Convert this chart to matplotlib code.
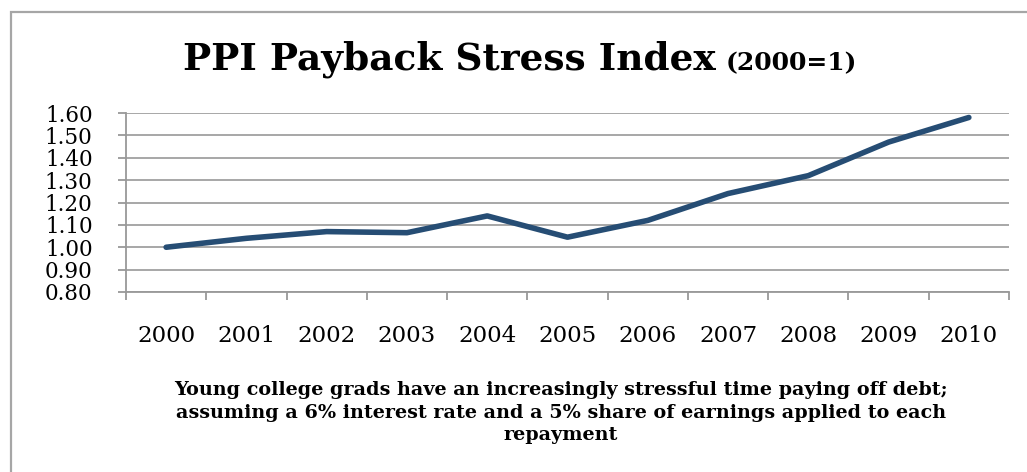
import numpy as np
import matplotlib
matplotlib.use("Agg")
import matplotlib.pyplot as plt
from matplotlib.patches import Rectangle

years = ['2000', '2001', '2002', '2003', '2004', '2005', '2006', '2007', '2008', '2009', '2010']
stress = [1.00, 1.04, 1.07, 1.065, 1.14, 1.045, 1.12, 1.24, 1.32, 1.47, 1.58]
yticks = [0.80, 0.90, 1.00, 1.10, 1.20, 1.30, 1.40, 1.50, 1.60]

W, H = 1027, 472
serif = 'DejaVu Serif'
plt.rcParams['font.family'] = serif

fig = plt.figure(figsize=(W / 100, H / 100), dpi=100)

# outer chart border (gray box running off the right/bottom)
fig.patches.append(Rectangle((11 / W, -0.05), 1.2, (H - 12) / H + 0.05,
                             transform=fig.transFigure, fill=False,
                             edgecolor='#a6a6a6', lw=1.6))

ax = fig.add_axes([126 / W, (H - 292) / H, (1009 - 126) / W, (292 - 113) / H])
x = np.arange(len(years))
ax.plot(x, stress, color='#264d74', lw=4, solid_capstyle='round',
        solid_joinstyle='round', zorder=3)

ax.set_xlim(-0.5, len(years) - 0.5)
ax.set_ylim(0.8, 1.6)
ax.set_yticks(yticks)
ax.set_yticklabels(['%.2f' % v for v in yticks], fontsize=15.5)
ax.set_xticks(x)
ax.set_xticklabels(years, fontsize=16.5)
ax.set_xticks(np.arange(-0.5, len(years)), minor=True)
ax.tick_params(axis='x', which='major', length=0, pad=24)
ax.tick_params(axis='x', which='minor', length=6, width=1.3, color='#999999')
ax.tick_params(axis='y', length=6, width=1.3, color='#999999', pad=18)
ax.yaxis.grid(True, color='#a0a0a0', lw=1.3)
ax.set_axisbelow(True)
for s in ['top', 'right']:
    ax.spines[s].set_visible(False)
for s in ['left', 'bottom']:
    ax.spines[s].set_color('#999999')
    ax.spines[s].set_linewidth(1.3)

# title in two sizes
t1 = fig.text(183 / W, (H - 70) / H, 'PPI Payback Stress Index', fontsize=27,
              fontweight='bold', ha='left', va='baseline')
fig.canvas.draw()
bb = t1.get_window_extent()
fig.text((bb.x1 + 10) / W, (H - 70) / H, '(2000=1)', fontsize=18,
         fontweight='bold', ha='left', va='baseline')

caption = ['Young college grads have an increasingly stressful time paying off debt;',
           'assuming a 6% interest rate and a 5% share of earnings applied to each',
           'repayment']
for i, line in enumerate(caption):
    fig.text(561 / W, (H - 390 - 22.5 * i) / H, line, fontsize=13.8,
             fontweight='bold', ha='center', va='center')

fig.savefig('out.png', dpi=100)
